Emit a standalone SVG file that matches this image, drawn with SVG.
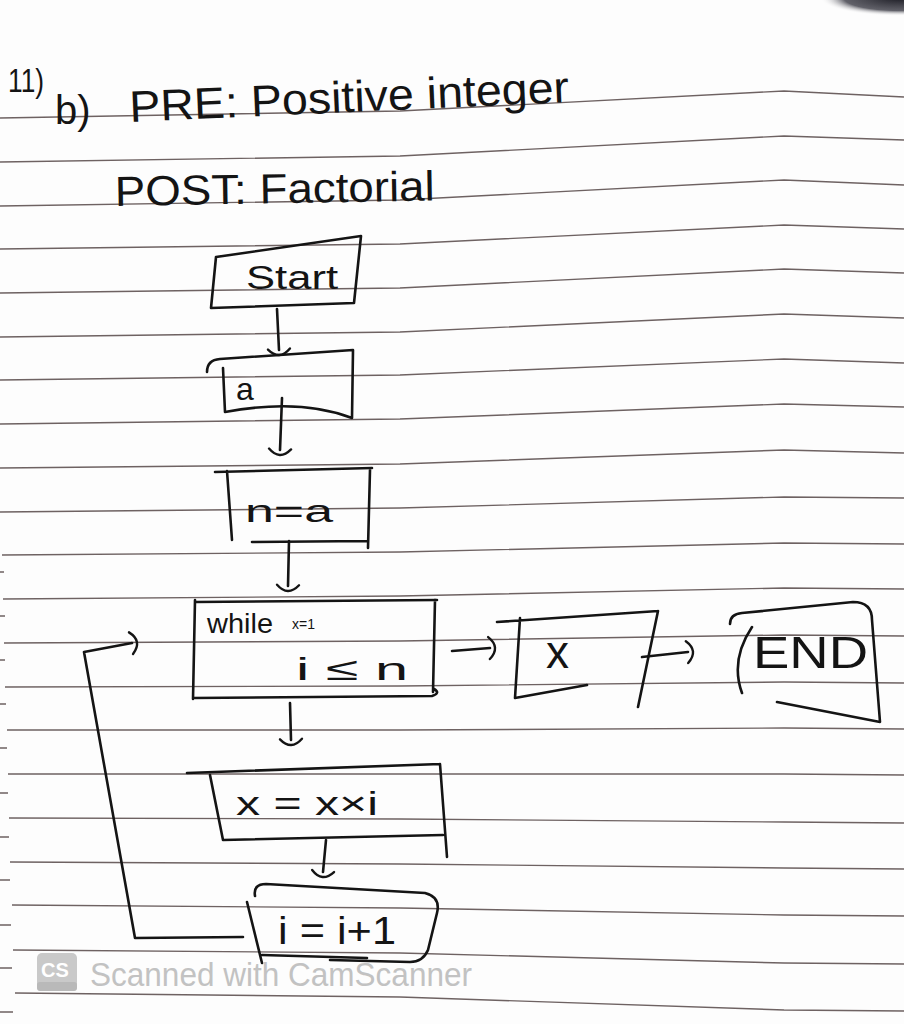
<svg xmlns="http://www.w3.org/2000/svg" width="904" height="1024" viewBox="0 0 904 1024">
<defs>
<style>
.ink{fill:none;stroke:#141414;stroke-width:2.6;stroke-linecap:round;stroke-linejoin:round}
.rule{fill:none;stroke:#6e6262;stroke-width:1.4}
.tick{stroke:#6e6262;stroke-width:1.4}
.hand{font-family:"Liberation Sans","DejaVu Sans",sans-serif;fill:#141414}
.wm{font-family:"Liberation Sans","DejaVu Sans",sans-serif;fill:#c2c2c2}
</style>
<marker id="hook" viewBox="0 0 14 26" refX="3" refY="13" markerWidth="14" markerHeight="26" markerUnits="userSpaceOnUse" orient="auto">
<path d="M2,2 Q14,13 2,24" fill="none" stroke="#141414" stroke-width="2.4" stroke-linecap="round"/>
</marker>
<radialGradient id="shade" cx="0.5" cy="0.5" r="0.5">
<stop offset="0" stop-color="#1c1c24" stop-opacity="1"/>
<stop offset="0.7" stop-color="#3a3a44" stop-opacity="0.8"/>
<stop offset="1" stop-color="#ffffff" stop-opacity="0"/>
</radialGradient>
</defs>
<rect width="904" height="1024" fill="#fdfdfd"/>
<ellipse cx="900" cy="-2" rx="80" ry="18" fill="url(#shade)"/>
<g id="paper-lines">
<path class="rule" d="M0,118 L400,111 L784,91 L904,97"/>
<path class="rule" d="M0,162 L400,156 L784,136 L904,140"/>
<path class="rule" d="M0,206 L400,200 L784,180 L904,185"/>
<path class="rule" d="M0,249 L400,244 L784,225 L904,229"/>
<path class="rule" d="M0,293 L400,288 L784,269 L904,273"/>
<path class="rule" d="M0,337 L400,332 L784,314 L904,318"/>
<path class="rule" d="M0,380 L400,375 L784,359 L904,363"/>
<path class="rule" d="M0,424 L400,419 L784,404 L904,407"/>
<path class="rule" d="M0,468 L400,464 L784,450 L904,453"/>
<path class="rule" d="M0,512 L400,508 L784,497 L904,498"/>
<path class="rule" d="M2,555 L400,552 L784,543 L904,544"/>
<path class="rule" d="M3,599 L400,596 L784,588 L904,589"/>
<path class="rule" d="M4,643 L400,641 L784,635 L904,636"/>
<path class="rule" d="M5,687 L400,686 L784,682 L904,683"/>
<path class="rule" d="M7,730 L400,730 L784,728 L904,729"/>
<path class="rule" d="M8,774 L400,774 L784,774 L904,775"/>
<path class="rule" d="M9,818 L400,819 L784,822 L904,823"/>
<path class="rule" d="M10,862 L400,864 L784,868 L904,869"/>
<path class="rule" d="M12,905 L400,908 L784,915 L904,916"/>
<path class="rule" d="M13,950 L400,953 L784,963 L904,964"/>
<path class="rule" d="M15,993 L400,997 L784,1010 L904,1011"/>
<path class="tick" d="M0,572 L4,572 M0,616 L5,616 M0,660 L5,660 M0,704 L6,704 M0,748 L7,748 M0,793 L8,793 M0,837 L9,837 M0,880 L10,880 M0,925 L11,925 M0,968 L12,968 M0,1012 L13,1012"/>
</g>
<g id="title">
<text class="hand" x="8" y="92" font-size="34" textLength="36" lengthAdjust="spacingAndGlyphs">11)</text>
<text class="hand" x="55" y="124" font-size="40">b)</text>
<text class="hand" x="130" y="122" font-size="44" textLength="440" lengthAdjust="spacingAndGlyphs" transform="rotate(-2.6 130 122)">PRE: Positive integer</text>
<text class="hand" x="115" y="206" font-size="42" textLength="320" lengthAdjust="spacingAndGlyphs" transform="rotate(-1 115 206)">POST: Factorial</text>
</g>
<g id="connectors">
<path class="ink" d="M277,309 L279,350" marker-end="url(#hook)"/>
<path class="ink" d="M282,398 L280,450" marker-end="url(#hook)"/>
<path class="ink" d="M289,541 L288,586" marker-end="url(#hook)"/>
<path class="ink" d="M452,651 L490,648" marker-end="url(#hook)"/>
<path class="ink" d="M642,657 L688,652" marker-end="url(#hook)"/>
<path class="ink" d="M290,703 L291,740" marker-end="url(#hook)"/>
<path class="ink" d="M326,840 L323,872" marker-end="url(#hook)"/>
<path class="ink" d="M243,937 L135,938 L84,652 L132,643" marker-end="url(#hook)"/>
</g>
<g id="node-start">
<path class="ink" d="M216,257 L361,236 L354,303 L211,308 Z"/>
<text class="hand" x="246" y="289" font-size="34" textLength="92" lengthAdjust="spacingAndGlyphs">Start</text>
</g>
<g id="node-input-a">
<path class="ink" d="M207,372 Q207,360 220,359 L353,350 L352,418 Q300,398 225,412 M223,368 L225,412"/>
<text class="hand" x="236" y="400" font-size="32">a</text>
</g>
<g id="node-assign">
<path class="ink" d="M215,472 L372,468 M227,471 L232,540 M370,470 L368,548 M252,542 L367,541"/>
<text class="hand" x="245" y="522" font-size="32" textLength="88" lengthAdjust="spacingAndGlyphs">n=a</text>
</g>
<g id="node-while">
<path class="ink" d="M195,602 L437,600 M195,600 L193,699 M193,698 L432,696 Q441,693 434,689 M435,600 L433,692"/>
<text class="hand" x="207" y="633" font-size="27" textLength="66" lengthAdjust="spacingAndGlyphs">while</text>
<text class="hand" x="292" y="629" font-size="14">x=1</text>
<text class="hand" x="296" y="680" font-size="32" textLength="112" lengthAdjust="spacingAndGlyphs">i ≤ n</text>
</g>
<g id="node-output-x">
<path class="ink" d="M497,622 L658,611 M520,618 L515,698 M515,698 L587,685 M658,611 L638,707"/>
<text class="hand" x="546" y="668" font-size="46">x</text>
</g>
<g id="node-end">
<path class="ink" d="M730,624 Q730,614 742,613 L853,602 Q872,602 872,620 L880,722 L777,702 M752,627 Q730,660 742,693"/>
<text class="hand" x="753" y="668" font-size="44" textLength="115" lengthAdjust="spacingAndGlyphs">END</text>
</g>
<g id="node-multiply">
<path class="ink" d="M187,773 L440,764 M210,775 L223,840 M223,840 L443,835 M440,764 L447,857"/>
<text class="hand" x="236" y="815" font-size="34" textLength="142" lengthAdjust="spacingAndGlyphs">x = x×i</text>
</g>
<g id="node-increment">
<path class="ink" d="M255,896 Q253,884 266,884 L425,893 Q441,897 437,913 L428,950 Q423,962 410,962 L330,960 M247,902 L262,963 M262,955 L367,958"/>
<text class="hand" x="278" y="944" font-size="38" textLength="118" lengthAdjust="spacingAndGlyphs">i = i+1</text>
</g>
<g id="watermark">
<rect x="37" y="953" width="40" height="38" rx="5" fill="#c9c9c9"/>
<rect x="37" y="982" width="40" height="9" rx="3" fill="#b9b9b9"/>
<text x="41" y="977" font-size="20" font-weight="bold" font-family="Liberation Sans, sans-serif" fill="#ffffff">CS</text>
<text class="wm" x="90" y="986" font-size="33" textLength="382" lengthAdjust="spacingAndGlyphs">Scanned with CamScanner</text>
</g>
</svg>
